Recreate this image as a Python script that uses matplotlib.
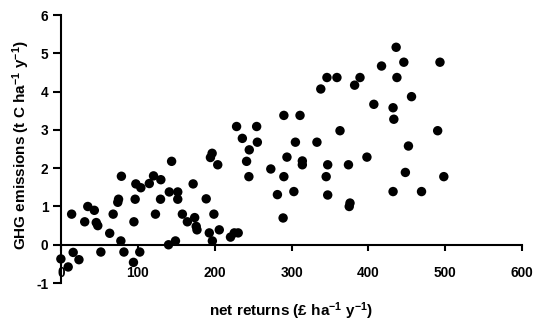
import matplotlib
matplotlib.use('Agg')
import matplotlib.pyplot as plt

plt.rcParams['font.family'] = ['Liberation Sans', 'DejaVu Sans']
plt.rcParams['font.weight'] = 'bold'
plt.rcParams['mathtext.fontset'] = 'custom'
plt.rcParams['mathtext.rm'] = 'Liberation Sans:bold'
plt.rcParams['mathtext.default'] = 'rm'
plt.rcParams['axes.unicode_minus'] = False

# net returns (GBP/ha/y) vs GHG emissions (t C/ha/y)
net_returns = [0, 9.5, 16, 23.5, 14, 31, 35, 43.5, 46, 48, 52, 63.5, 68, 78, 78.7,
               74, 75, 82, 95, 96.6, 97.5, 104, 94.4, 102.6, 115, 120.5, 130, 123,
               129.6, 141, 152, 152, 144, 140, 149, 158, 164.5, 172, 174, 176, 177,
               189, 193, 197, 199, 206, 194.5, 196.7, 204, 220.6, 225.5, 230.6,
               228.5, 254.6, 236, 255.5, 245, 241.5, 244.5, 273, 281.6, 289, 290,
               294, 290, 303, 305, 311, 314, 314, 333, 338, 345, 346, 347, 347,
               359, 363, 374, 376, 375, 382, 389, 398, 407, 417, 432, 432, 433,
               436, 437, 446, 448, 452, 456, 469, 490, 493, 498]
ghg = [-0.37, -0.58, -0.2, -0.39, 0.8, 0.6, 1.0, 0.9, 0.58, 0.5, -0.19, 0.3, 0.8,
       0.1, 1.79, 1.11, 1.19, -0.19, 0.6, 1.19, 1.59, 1.49, -0.46, -0.19, 1.6,
       1.8, 1.7, 0.8, 1.19, 1.38, 1.38, 1.19, 2.18, 0.0, 0.1, 0.8, 0.6, 1.59,
       0.71, 0.48, 0.39, 1.2, 0.31, 0.1, 0.8, 0.39, 2.28, 2.39, 2.09, 0.2, 0.31,
       0.31, 3.09, 3.09, 2.78, 2.68, 2.48, 2.18, 1.78, 1.98, 1.31, 0.7, 1.78,
       2.29, 3.38, 1.39, 2.68, 3.38, 2.19, 2.09, 2.68, 4.07, 1.78, 4.37, 2.09,
       1.3, 4.37, 2.98, 2.09, 1.09, 1.0, 4.17, 4.37, 2.29, 3.67, 4.67, 3.58,
       1.39, 3.28, 5.16, 4.37, 4.77, 1.89, 2.58, 3.87, 1.39, 2.98, 4.77, 1.78]

fig = plt.figure(figsize=(5.34, 3.22), dpi=100)
ax = fig.add_axes([0.114, 0.121, 0.864, 0.832])
ax.scatter(net_returns, ghg, s=46, c='black', edgecolors='none', clip_on=False, zorder=3)

ax.set_xlim(0, 600)
ax.set_ylim(-1, 6)
ax.set_xticks(range(0, 601, 100))
ax.set_yticks(range(-1, 7))

ax.spines['top'].set_visible(False)
ax.spines['right'].set_visible(False)
ax.spines['bottom'].set_position(('data', 0))
ax.spines['bottom'].set_linewidth(1.5)
ax.spines['left'].set_linewidth(1.5)
ax.tick_params(axis='x', direction='out', length=4, width=1.5, pad=11, labelsize=9.8)
ax.tick_params(axis='y', direction='out', length=5.5, width=1.5, pad=3.5, labelsize=9.8)

fig.text(21 / 534, 1 - 145 / 322, r'GHG emissions (t C ha$^{-1}$ y$^{-1}$)', fontsize=11,
         fontweight='bold', rotation=90, ha='center', va='center')
fig.text(291 / 534, 0.035, r'net returns (£ ha$^{-1}$ y$^{-1}$)', fontsize=11,
         fontweight='bold', ha='center', va='center')

fig.savefig('out.png', dpi=100)
